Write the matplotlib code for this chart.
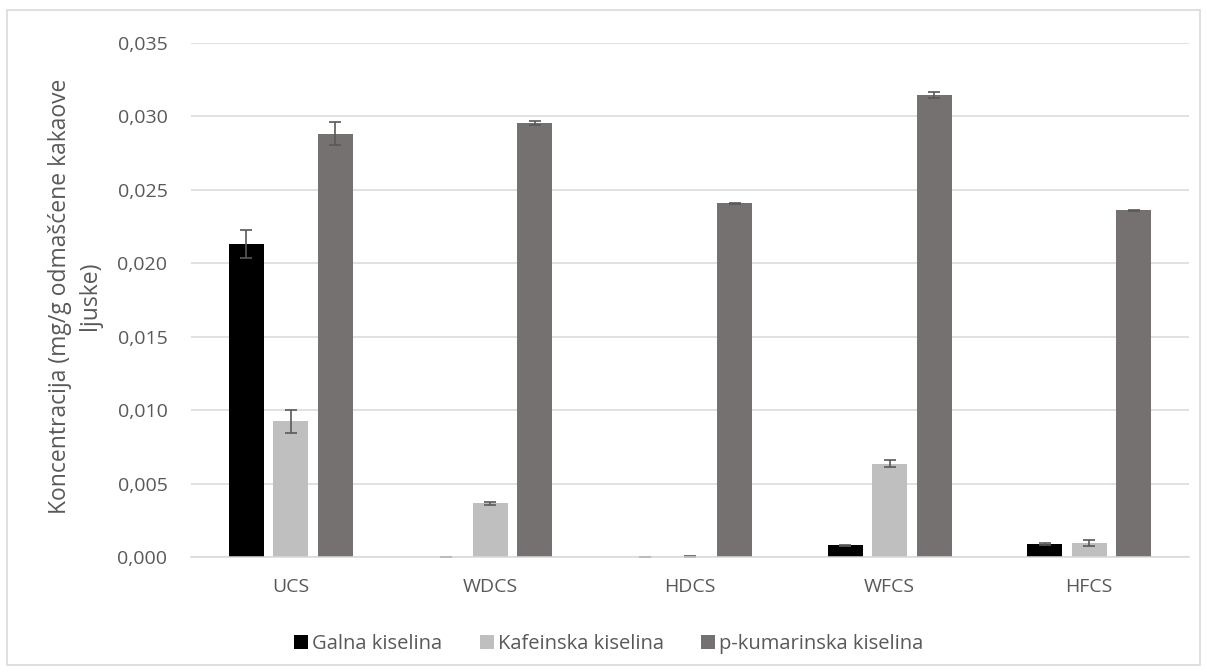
import matplotlib
matplotlib.use("Agg")
import matplotlib.pyplot as plt
import numpy as np
from matplotlib.patches import Rectangle

categories = ["UCS", "WDCS", "HDCS", "WFCS", "HFCS"]
series_names = ["Galna kiselina", "Kafeinska kiselina", "p-kumarinska kiselina"]
galna = [0.02132, 0.00001, 0.00001, 0.00080, 0.00088]
galna_err = [0.00095, 0.00001, 0.00001, 0.00005, 0.00005]
kafeinska = [0.00923, 0.00365, 0.00003, 0.00634, 0.00096]
kafeinska_err = [0.00076, 0.00010, 0.00003, 0.00024, 0.00020]
kumarinska = [0.02883, 0.02957, 0.02408, 0.03145, 0.02360]
kumarinska_err = [0.00080, 0.00012, 0.00003, 0.00022, 0.00003]
yticks = [0.0, 0.005, 0.010, 0.015, 0.020, 0.025, 0.030, 0.035]

colors = ["#000000", "#BFBFBF", "#767171"]
plt.rcParams['font.family'] = ['Open Sans', 'DejaVu Sans']

fig = plt.figure(figsize=(12.07, 6.72), dpi=100)
ax = fig.add_axes([191/1207, 1-557/672, (1189-191)/1207, (557-43)/672])

# chart border
fig.patches.append(Rectangle((7/1207, 1-665/672), (1200-7)/1207, (665-10)/672,
                             transform=fig.transFigure, fill=False,
                             edgecolor="#D9D9D9", linewidth=1.2))

x = np.arange(len(categories))
w = 0.175
off = 0.223
data = [(galna, galna_err), (kafeinska, kafeinska_err), (kumarinska, kumarinska_err)]
handles = []
for i, (vals, errs) in enumerate(data):
    b = ax.bar(x + (i - 1) * off, vals, w, color=colors[i], label=series_names[i],
               yerr=errs, error_kw=dict(ecolor="#595959", elinewidth=1.2, capsize=4.3, capthick=1.2),
               zorder=3)
    handles.append(b)

ax.set_xlim(-0.5, len(categories) - 0.5)
ax.set_ylim(0, 0.035)
ax.set_yticks(yticks)
ax.set_yticklabels([f"{v:.3f}".replace(".", ",") for v in yticks])
ax.set_xticks(x)
ax.set_xticklabels(categories)
ax.tick_params(axis="both", length=0, labelsize=14, colors="#595959")
ax.tick_params(axis="y", pad=17)
ax.tick_params(axis="x", pad=15)
ax.grid(axis="y", color="#D9D9D9", linewidth=1.1, zorder=0)
for s in ["top", "right", "left"]:
    ax.spines[s].set_visible(False)
ax.spines["bottom"].set_color("#D9D9D9")
ax.spines["bottom"].set_linewidth(1.1)
ax.spines["bottom"].set_zorder(4)

fig.text(75/1207, 1-296/672, "Koncentracija (mg/g odmašćene kakaove\nljuske)",
         rotation=90, ha="center", va="center", fontsize=16.5, color="#595959",
         linespacing=1.3)

leg = fig.legend(handles=handles, labels=series_names, loc="center",
                 bbox_to_anchor=(609/1207, 1-644/672), ncol=3, frameon=False,
                 fontsize=14.5, handlelength=0.7, handleheight=0.7, handletextpad=0.2,
                 columnspacing=1.85)
for t in leg.get_texts():
    t.set_color("#595959")

fig.savefig("out.png", dpi=100)
